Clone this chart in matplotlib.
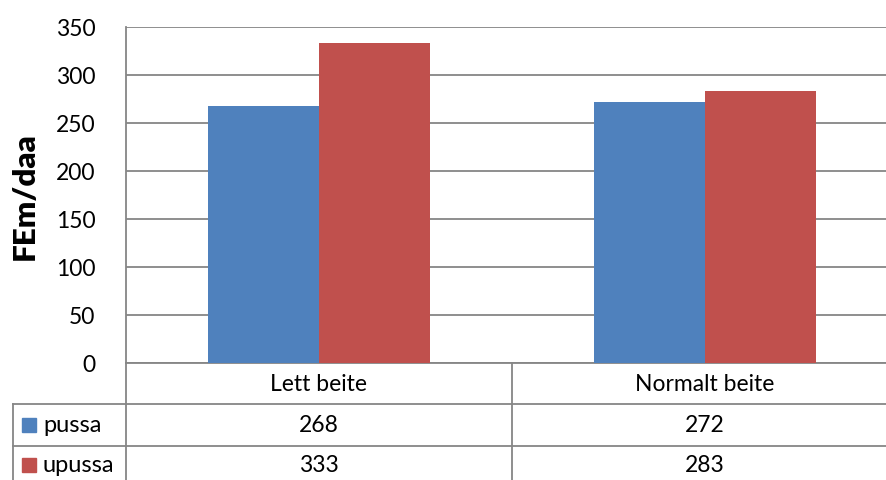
import matplotlib.pyplot as plt
import matplotlib.transforms as mtransforms
import numpy as np

categories = ['Lett beite', 'Normalt beite']
series_names = ['pussa', 'upussa']
pussa = [268, 272]
upussa = [333, 283]
series_colors = ['#4F81BD', '#C0504D']

W, H = 887, 481
plt.rcParams['font.family'] = ['Lato', 'DejaVu Sans']
fig = plt.figure(figsize=(W / 100, H / 100), dpi=100)

# plot area in pixels: x 126..898 (right edge runs off), y 28..364
ax = fig.add_axes([126 / W, 1 - 364 / H, (898 - 126) / W, (364 - 28) / H])

x = np.arange(len(categories))
bw = 0.287
ax.bar(x - bw / 2, pussa, bw, color=series_colors[0], zorder=3)
ax.bar(x + bw / 2, upussa, bw, color=series_colors[1], zorder=3)

ax.set_xlim(-0.5, len(categories) - 0.5)
ax.set_ylim(0, 350)
ax.set_yticks(range(0, 351, 50))
ax.yaxis.grid(True, color='#868686', linewidth=1.3, zorder=0)
ax.tick_params(axis='y', length=0, labelsize=16.5, pad=22)
ax.set_xticks([])
for s in ['top', 'right', 'bottom']:
    ax.spines[s].set_visible(False)
ax.spines['left'].set_color('#868686')
ax.spines['left'].set_linewidth(1.3)
ax.set_ylabel('FEm/daa', fontsize=22.5, fontweight='heavy', labelpad=12)

# data table below the axis; x in data units, y in figure pixels
fig_px = mtransforms.Affine2D().scale(1 / W, -1 / H).translate(0, 1) + fig.transFigure
tr = mtransforms.blended_transform_factory(ax.transData, fig_px)
line_kw = dict(color='#868686', linewidth=1.3, clip_on=False)

x_right = len(categories) - 0.5
ax.plot([-0.5, x_right], [364, 364], transform=tr, **line_kw)
for yy in [405, 447]:
    fig.add_artist(plt.Line2D([13 / W, 1.0], [1 - yy / H, 1 - yy / H], **line_kw))
fig.add_artist(plt.Line2D([13 / W, 13 / W], [1 - 405 / H, 0], **line_kw))
for xv in np.arange(-0.5, x_right + 0.01, 1.0):
    ax.plot([xv, xv], [364, H], transform=tr, **line_kw)

row_y = [426, 466]
for i, c in enumerate(categories):
    ax.text(i, 385, c, transform=tr, ha='center', va='center', fontsize=16.5)
for vals, yy in zip([pussa, upussa], row_y):
    for i, v in enumerate(vals):
        ax.text(i, yy, str(v), transform=tr, ha='center', va='center', fontsize=16.5)

for name, col, yy in zip(series_names, series_colors, row_y):
    fig.add_artist(plt.Rectangle((22 / W, 1 - (yy + 7) / H), 14 / W, 14 / H,
                                 color=col, transform=fig.transFigure))
    fig.text(43 / W, 1 - yy / H, name, ha='left', va='center', fontsize=17)

fig.savefig('out.png', dpi=100)
